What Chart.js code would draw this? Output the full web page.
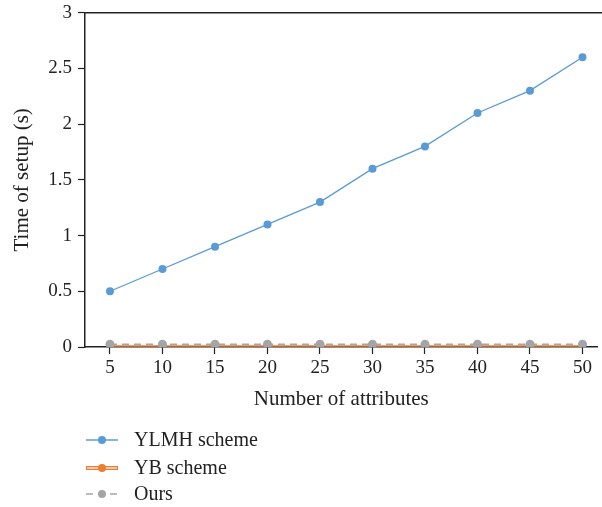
<!DOCTYPE html>
<html lang="en">
<head>
    <meta charset="UTF-8">
    <title>Time of setup</title>
    <script src="https://cdn.jsdelivr.net/npm/chart.js"></script>
    <style>
        html, body {
            margin: 0;
            padding: 0;
            background: #ffffff;
        }
        .chart-container {
            width: 602px;
            height: 507px;
        }
    </style>
</head>
<body>

<div class="chart-container">
    <canvas id="myChart"></canvas>
</div>

<script>
    // Dados
    const attributes = [5, 10, 15, 20, 25, 30, 35, 40, 45, 50];
    const ylmhTimes = [0.5, 0.7, 0.9, 1.1, 1.3, 1.6, 1.8, 2.1, 2.3, 2.6];
    const ybTimes = [0.01, 0.01, 0.01, 0.01, 0.01, 0.01, 0.01, 0.01, 0.01, 0.01];
    const oursTimes = [0.025, 0.025, 0.025, 0.025, 0.025, 0.025, 0.025, 0.025, 0.025, 0.025];
    const yTicks = [0, 0.5, 1, 1.5, 2, 2.5, 3];
    const seriesNames = ['YLMH scheme', 'YB scheme', 'Ours'];

    const fontFamily = '"Liberation Serif", "DejaVu Serif", serif';
    const blue = '#5b9bd5';
    const orange = '#ed7d31';
    const gray = '#a5a5a5';

    const toPoints = (vals) => attributes.map((a, i) => ({ x: a, y: vals[i] }));

    // Linha superior do quadro + legenda vertical embaixo
    const framePlugin = {
        id: 'framePlugin',
        afterDraw(chart) {
            const ctx = chart.ctx;
            const area = chart.chartArea;
            ctx.save();
            ctx.strokeStyle = '#222';
            ctx.lineWidth = 1.5;
            ctx.beginPath();
            ctx.moveTo(area.left, area.top);
            ctx.lineTo(chart.width, area.top);
            ctx.stroke();

            const rows = [440, 468, 494];
            const x0 = 86, x1 = 118, xm = 102;
            ctx.font = '20px ' + fontFamily;
            ctx.textBaseline = 'middle';
            chart.data.datasets.forEach((ds, i) => {
                const y = rows[i];
                if (i === 1) {
                    ctx.strokeStyle = orange;
                    ctx.lineWidth = 4;
                    ctx.setLineDash([]);
                    ctx.beginPath(); ctx.moveTo(x0, y); ctx.lineTo(x1, y); ctx.stroke();
                    ctx.strokeStyle = '#fff';
                    ctx.lineWidth = 1.2;
                    ctx.beginPath(); ctx.moveTo(x0 + 1, y); ctx.lineTo(x1 - 1, y); ctx.stroke();
                } else {
                    ctx.strokeStyle = ds.borderColor;
                    ctx.lineWidth = 1.5;
                    ctx.setLineDash(ds.borderDash || []);
                    ctx.beginPath(); ctx.moveTo(x0, y); ctx.lineTo(x1, y); ctx.stroke();
                    ctx.setLineDash([]);
                }
                ctx.fillStyle = ds.pointBackgroundColor;
                ctx.beginPath(); ctx.arc(xm, y, 4, 0, Math.PI * 2); ctx.fill();
                ctx.fillStyle = '#222';
                ctx.fillText(ds.label, 134, y + 1);
            });
            ctx.restore();
        }
    };

    const ctx = document.getElementById('myChart').getContext('2d');
    const myChart = new Chart(ctx, {
        type: 'line',
        data: {
            datasets: [
                {
                    label: seriesNames[0],
                    data: toPoints(ylmhTimes),
                    borderColor: blue,
                    backgroundColor: blue,
                    pointBackgroundColor: blue,
                    pointBorderWidth: 0,
                    pointRadius: 4,
                    borderWidth: 1.3,
                    order: 3
                },
                {
                    label: seriesNames[1],
                    data: toPoints(ybTimes),
                    borderColor: orange,
                    backgroundColor: orange,
                    pointBackgroundColor: orange,
                    pointBorderWidth: 0,
                    pointRadius: 3,
                    borderWidth: 1.5,
                    order: 2
                },
                {
                    label: seriesNames[2],
                    data: toPoints(oursTimes),
                    borderColor: gray,
                    backgroundColor: gray,
                    pointBackgroundColor: gray,
                    pointBorderWidth: 0,
                    pointRadius: 4.5,
                    borderWidth: 1.5,
                    borderDash: [7, 5],
                    order: 1
                }
            ]
        },
        options: {
            responsive: true,
            maintainAspectRatio: false,
            animation: false,
            layout: {
                padding: { top: 0, right: 0, bottom: 95, left: 10 }
            },
            scales: {
                x: {
                    type: 'linear',
                    min: 2.62,
                    max: 51.43,
                    afterBuildTicks: (axis) => {
                        axis.ticks = attributes.map(v => ({ value: v }));
                    },
                    grid: {
                        display: true,
                        drawOnChartArea: false,
                        drawTicks: true,
                        tickLength: 7,
                        tickColor: '#222',
                        tickWidth: 1.2
                    },
                    border: { color: '#222', width: 1.5 },
                    ticks: {
                        color: '#222',
                        font: { family: fontFamily, size: 19 },
                        padding: 3,
                        maxRotation: 0
                    },
                    title: {
                        display: true,
                        text: 'Number of attributes',
                        color: '#222',
                        font: { family: fontFamily, size: 21 },
                        padding: { top: 4, bottom: 0 }
                    }
                },
                y: {
                    min: 0,
                    max: 3,
                    afterFit: (axis) => {
                        axis.width = 75;
                    },
                    afterBuildTicks: (axis) => {
                        axis.ticks = yTicks.map(v => ({ value: v }));
                    },
                    grid: {
                        display: true,
                        drawOnChartArea: false,
                        drawTicks: true,
                        tickLength: 7,
                        tickColor: '#222',
                        tickWidth: 1.2
                    },
                    border: { color: '#222', width: 1.5 },
                    ticks: {
                        color: '#222',
                        font: { family: fontFamily, size: 19, lineHeight: 0.7 },
                        padding: 6,
                        callback: (v) => String(v)
                    },
                    title: {
                        display: true,
                        text: 'Time of setup (s)',
                        color: '#222',
                        font: { family: fontFamily, size: 21 },
                        padding: { top: 0, bottom: 8 }
                    }
                }
            },
            plugins: {
                legend: { display: false },
                tooltip: { enabled: false }
            }
        },
        plugins: [framePlugin]
    });
</script>

</body>
</html>
